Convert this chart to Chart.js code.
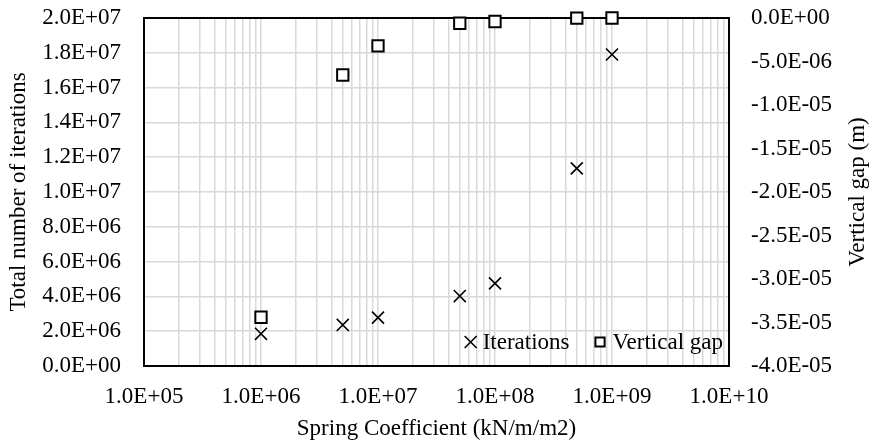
<!DOCTYPE html>
<html>
<head>
<meta charset="utf-8">
<script src="https://cdn.jsdelivr.net/npm/chart.js@4.4.1/dist/chart.umd.min.js"></script>
<style>
  html, body { margin: 0; padding: 0; background: #fff; }
</style>
</head>
<body>
<canvas id="myChart" width="872" height="445"></canvas>
<script>
// spring coefficient (kN/m/m2)
const springK = [1e6, 5e6, 1e7, 5e7, 1e8, 5e8, 1e9]
// total number of iterations (left axis)
const iterations = [1.85e6, 2.36e6, 2.78e6, 4.02e6, 4.75e6, 1.136e7, 1.79e7]
// vertical gap in m (right axis)
const verticalGap = [-3.44e-5, -6.55e-6, -3.2e-6, -6e-7, -4e-7, -2e-8, 0]

const xMajorTicks = [1e5, 1e6, 1e7, 1e8, 1e9, 1e10]
const leftTicks = [0, 2e6, 4e6, 6e6, 8e6, 1e7, 1.2e7, 1.4e7, 1.6e7, 1.8e7, 2e7]
const rightTicks = [0, -5e-6, -1e-5, -1.5e-5, -2e-5, -2.5e-5, -3e-5, -3.5e-5, -4e-5]

const FONT = 'Liberation Serif, Times New Roman, serif'
const GRID = '#d9d9d9'

// Excel style 2.0E+07
function sci(v){
    if (Math.abs(v) < 1e-20) return '0.0E+00'
    let parts = v.toExponential(1).split('e')
    let e = parseInt(parts[1])
    let sign = e < 0 ? '-' : '+'
    let digits = String(Math.abs(e)).padStart(2, '0')
    return parts[0] + 'E' + sign + digits
}

function setTicks(list){
    return function(scale){
        scale.ticks = list.map(v => ({value: v}))
    }
}

// fixed axis box so the plot area sits where it does in the original
function fixWidth(w){
    return function(scale){
        scale.width = w
        scale.paddingTop = 18
        scale.paddingBottom = 0
    }
}

// draws the frame round the plot area, under the markers
const framePlugin = {
    id: 'frame',
    beforeDatasetsDraw(chart){
        const a = chart.chartArea
        const ctx = chart.ctx
        ctx.save()
        ctx.strokeStyle = '#000'
        ctx.lineWidth = 2
        ctx.strokeRect(a.left, a.top, a.right - a.left, a.bottom - a.top)
        ctx.restore()
    }
}

function drawMarker(ctx, style, x, y, r){
    ctx.beginPath()
    if (style === 'crossRot'){
        let d = r * Math.SQRT1_2
        ctx.lineWidth = 1.6
        ctx.moveTo(x - d, y - d); ctx.lineTo(x + d, y + d)
        ctx.moveTo(x - d, y + d); ctx.lineTo(x + d, y - d)
        ctx.stroke()
    } else {
        let d = r * Math.SQRT1_2
        ctx.lineWidth = 2
        ctx.fillStyle = '#fff'
        ctx.rect(x - d, y - d, 2 * d, 2 * d)
        ctx.fill()
        ctx.stroke()
    }
}

// legend inside the bottom right of the plot, plus the right axis title
const extrasPlugin = {
    id: 'extras',
    afterDraw(chart){
        const a = chart.chartArea
        const ctx = chart.ctx
        ctx.save()
        ctx.font = '23px ' + FONT
        ctx.fillStyle = '#000'
        ctx.strokeStyle = '#000'
        ctx.textBaseline = 'middle'
        ctx.textAlign = 'left'
        const sets = chart.data.datasets
        const y = a.bottom - 24
        let x = a.right - 6
        const w1 = ctx.measureText(sets[1].label).width
        const w0 = ctx.measureText(sets[0].label).width
        let t1 = x - w1
        let m1 = t1 - 12.5
        let t0 = m1 - 30.5 - w0
        let m0 = t0 - 12
        drawMarker(ctx, sets[0].pointStyle, m0, y, 8.5)
        ctx.fillText(sets[0].label, t0, y + 1)
        drawMarker(ctx, sets[1].pointStyle, m1, y, 6.5)
        ctx.fillStyle = '#000'
        ctx.fillText(sets[1].label, t1, y + 1)

        // right title reads bottom to top
        ctx.translate(858, (a.top + a.bottom) / 2)
        ctx.rotate(-Math.PI / 2)
        ctx.textAlign = 'center'
        ctx.fillText('Vertical gap (m)', 0, 0)
        ctx.restore()
    }
}

const data = {
    datasets: [{
        label: 'Iterations',
        data: springK.map((k, i) => ({x: k, y: iterations[i]})),
        yAxisID: 'y',
        pointStyle: 'crossRot',
        pointRadius: 8.5,
        pointBorderWidth: 1.6,
        borderColor: '#000',
        backgroundColor: '#000',
        showLine: false,
        clip: false
    }, {
        label: 'Vertical gap',
        data: springK.map((k, i) => ({x: k, y: verticalGap[i]})),
        yAxisID: 'y1',
        pointStyle: 'rect',
        pointRadius: 8,
        pointBorderWidth: 2,
        borderColor: '#000',
        backgroundColor: '#fff',
        showLine: false,
        clip: false
    }]
}

const config = {
    type: 'scatter',
    data: data,
    options: {
        responsive: false,
        animation: false,
        layout: { padding: 0 },
        plugins: {
            legend: { display: false },
            tooltip: { enabled: false }
        },
        scales: {
            x: {
                type: 'logarithmic',
                min: 1e5,
                max: 1e10,
                afterBuildTicks(scale){
                    let ticks = []
                    for (let i = 0; i < xMajorTicks.length - 1; i++){
                        for (let m = 1; m < 10; m++) ticks.push({value: xMajorTicks[i] * m})
                    }
                    ticks.push({value: xMajorTicks[xMajorTicks.length - 1]})
                    scale.ticks = ticks
                },
                afterFit(scale){ scale.height = 79 },
                grid: { color: GRID, lineWidth: 1.5, drawTicks: false },
                border: { display: false },
                ticks: {
                    autoSkip: false,
                    maxRotation: 0,
                    padding: 17,
                    color: '#000',
                    font: { family: FONT, size: 23 },
                    callback: v => xMajorTicks.includes(v) ? sci(v) : ''
                },
                title: {
                    display: true,
                    text: 'Spring Coefficient (kN/m/m2)',
                    color: '#000',
                    font: { family: FONT, size: 23 },
                    padding: { top: 0, bottom: 2 }
                }
            },
            y: {
                position: 'left',
                min: 0,
                max: 2e7,
                afterBuildTicks: setTicks(leftTicks),
                afterFit: fixWidth(144),
                grid: { color: GRID, lineWidth: 1.5, drawTicks: false },
                border: { display: false },
                ticks: {
                    padding: 23,
                    color: '#000',
                    font: { family: FONT, size: 23 },
                    callback: v => sci(v)
                },
                title: {
                    display: true,
                    text: 'Total number of iterations',
                    color: '#000',
                    font: { family: FONT, size: 23 },
                    padding: { top: 5, bottom: 0 }
                }
            },
            y1: {
                position: 'right',
                min: -4e-5,
                max: 0,
                afterBuildTicks: setTicks(rightTicks),
                afterFit: fixWidth(143),
                grid: { drawOnChartArea: false, drawTicks: false },
                border: { display: false },
                ticks: {
                    padding: 22,
                    color: '#000',
                    font: { family: FONT, size: 23 },
                    callback: v => sci(v)
                }
            }
        }
    },
    plugins: [framePlugin, extrasPlugin]
}

const myChart = new Chart(document.getElementById('myChart'), config)
</script>
</body>
</html>
